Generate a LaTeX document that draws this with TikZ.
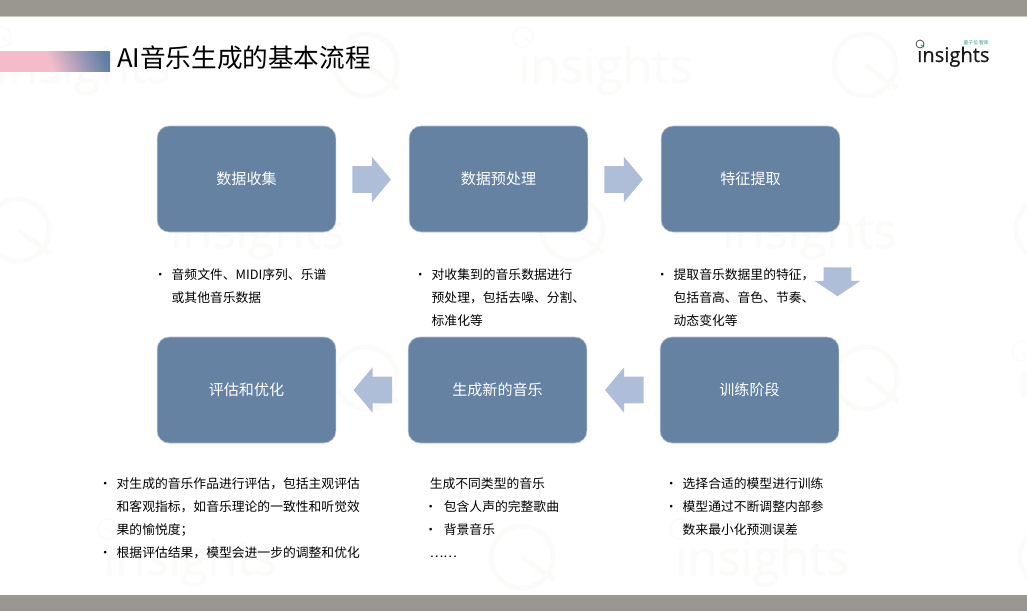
\documentclass[tikz,border=0pt]{standalone}
\usepackage{fontspec}
\usetikzlibrary{shapes.arrows}
\setmainfont{Noto Sans CJK SC}
\newfontfamily\logofont[FakeBold=0.5]{Open Sans}
\definecolor{barc}{HTML}{9A9690}
\definecolor{barl}{HTML}{C9C6C0}
\definecolor{boxc}{HTML}{6582A3}
\definecolor{boxl}{HTML}{B4C0D2}
\definecolor{arrc}{HTML}{AEBDD8}
\definecolor{wmc}{HTML}{FBFBF9}
\definecolor{pinkc}{HTML}{F4BCCB}
\definecolor{bluec}{HTML}{5F7FA6}
\definecolor{tealc}{HTML}{2F9C8C}
\pgfdeclarehorizontalshading{barshade}{100bp}{color(0bp)=(pinkc); color(47bp)=(pinkc); color(78bp)=(bluec); color(100bp)=(bluec)}
\newcommand{\blt}{\makebox[9.3pt][l]{\hspace*{-4pt}•}}
\newcommand{\bltw}{\makebox[10.6pt][l]{\hspace*{-4pt}•}}
\newcommand{\ind}{\hspace*{9.3pt}}
\newcommand{\qring}[5]{%
  \draw[#5,line width=#4] (#1,#2) circle[radius=#3];
  \draw[#5,line width=#4] (#1,#2) -- ++({#3*1.02},{#3*0.74});}
\newcommand{\wmark}[3]{%
  \node[wmtext,anchor=base west] (#1) at (#2,#3) {\char"0131nsights};
  \qring{#2+5}{#3-46}{10}{1.1pt}{wmc}}
\tikzset{
  stepbox/.style={draw=boxl,line width=0.5pt,fill=boxc,rounded corners=9pt,minimum width=134pt,minimum height=79.5pt,inner sep=0pt,text=white,font=\fontsize{11.3pt}{14pt}\selectfont},
  blockarr/.style={single arrow,fill=arrc,draw=none,inner sep=0pt,anchor=tail,text height=19.5pt,text depth=0pt,minimum height=29pt,single arrow head extend=7pt,single arrow tip angle=100},
  downarr/.style={single arrow,fill=arrc,draw=none,inner sep=0pt,anchor=tail,text height=20.25pt,text depth=0pt,minimum height=21.75pt,single arrow head extend=6.75pt,single arrow tip angle=112,rotate=-90},
  body/.style={anchor=north west,align=left,inner sep=0pt,text=black,font=\fontsize{9.6pt}{17.25pt}\selectfont},
  wmtext/.style={inner sep=0pt,text=wmc,font=\logofont\fontsize{36.4pt}{40pt}\selectfont},
}
\begin{document}
\begin{tikzpicture}[x=0.75pt,y=-0.75pt]
\useasboundingbox (0,0) rectangle (1027,611);
\fill[white] (0,0) rectangle (1027,611);
% watermarks
\wmark{wa}{-4}{83}
\wmark{wb}{518}{83}
\qring{366}{65}{31}{3.4pt}{wmc}
\qring{865}{65}{31}{3.4pt}{wmc}
\wmark{wc}{170}{248}
\wmark{wd}{722}{248}
\qring{18}{230}{31}{3.4pt}{wmc}
\qring{572}{229}{31}{3.4pt}{wmc}
\qring{1047}{229}{31}{3.4pt}{wmc}
\qring{366}{378}{31}{3.4pt}{wmc}
\qring{866}{378}{31}{3.4pt}{wmc}
\wmark{we}{1017}{397}
\wmark{wf}{103}{575}
\wmark{wg}{675}{575}
\qring{522}{557}{31}{3.4pt}{wmc}
\qring{1051}{557}{31}{3.4pt}{wmc}
% frame bars
\fill[barc] (0,0) rectangle (1027,15.5);
\fill[barl] (0,15.5) rectangle (1027,16.5);
\fill[barc] (0,595) rectangle (1027,611);
% title
\shade[shading=barshade,shading angle=20] (0,51) rectangle (110,71);
\node[anchor=base west,inner sep=0pt,text=black,font=\fontsize{19.2pt}{23pt}\selectfont] (title) at (117,67) {AI音乐生成的基本流程};
% logo
\node[anchor=base west,inner sep=0pt,text=black!90,font=\logofont\fontsize{15.1pt}{18pt}\selectfont] (logo) at (917,62) {\char"0131nsights};
\node[anchor=base east,inner sep=0pt,text=tealc,font=\fontsize{3.6pt}{5pt}\selectfont] (logosub) at (989,44) {量子位 智库};
\draw[black!80,line width=0.5pt] (920,44) circle[radius=4];
\draw[tealc,line width=0.8pt] (921,45) -- (924,47);
% boxes
\node[stepbox] (a) at (246.5,179) {数据收集};
\node[stepbox] (b) at (498.5,179) {数据预处理};
\node[stepbox] (c) at (750.5,179) {特征提取};
\node[stepbox] (d) at (749.5,390) {训练阶段};
\node[stepbox] (e) at (497.5,390) {生成新的音乐};
\node[stepbox] (f) at (246.5,390) {评估和优化};
% arrows
\node[blockarr] (ab) at (352,179.5) {};
\node[blockarr] (bc) at (604,179.5) {};
\node[downarr] (cd) at (837.5,267) {};
\node[blockarr,rotate=180] (de) at (644,390) {};
\node[blockarr,rotate=180] (ef) at (392.5,390) {};
% texts
\node[body] (ta) at (159,268) {\blt 音频文件、MIDI序列、乐谱\\\ind 或其他音乐数据};
\node[body] (tb) at (419,268) {\blt 对收集到的音乐数据进行\\\ind 预处理，包括去噪、分割、\\\ind 标准化等};
\node[body] (tc) at (661,268) {\blt 提取音乐数据里的特征，\\\ind 包括音高、音色、节奏、\\\ind 动态变化等};
\node[body] (tf) at (104,477) {\blt 对生成的音乐作品进行评估，包括主观评估\\\ind 和客观指标，如音乐理论的一致性和听觉效\\\ind 果的愉悦度；\\\blt 根据评估结果，模型会进一步的调整和优化};
\node[body] (te) at (429.5,477) {生成不同类型的音乐\\\bltw 包含人声的完整歌曲\\\bltw 背景音乐\\……};
\node[body] (td) at (670,477) {\blt 选择合适的模型进行训练\\\blt 模型通过不断调整内部参\\\ind 数来最小化预测误差};
\end{tikzpicture}
\end{document}
